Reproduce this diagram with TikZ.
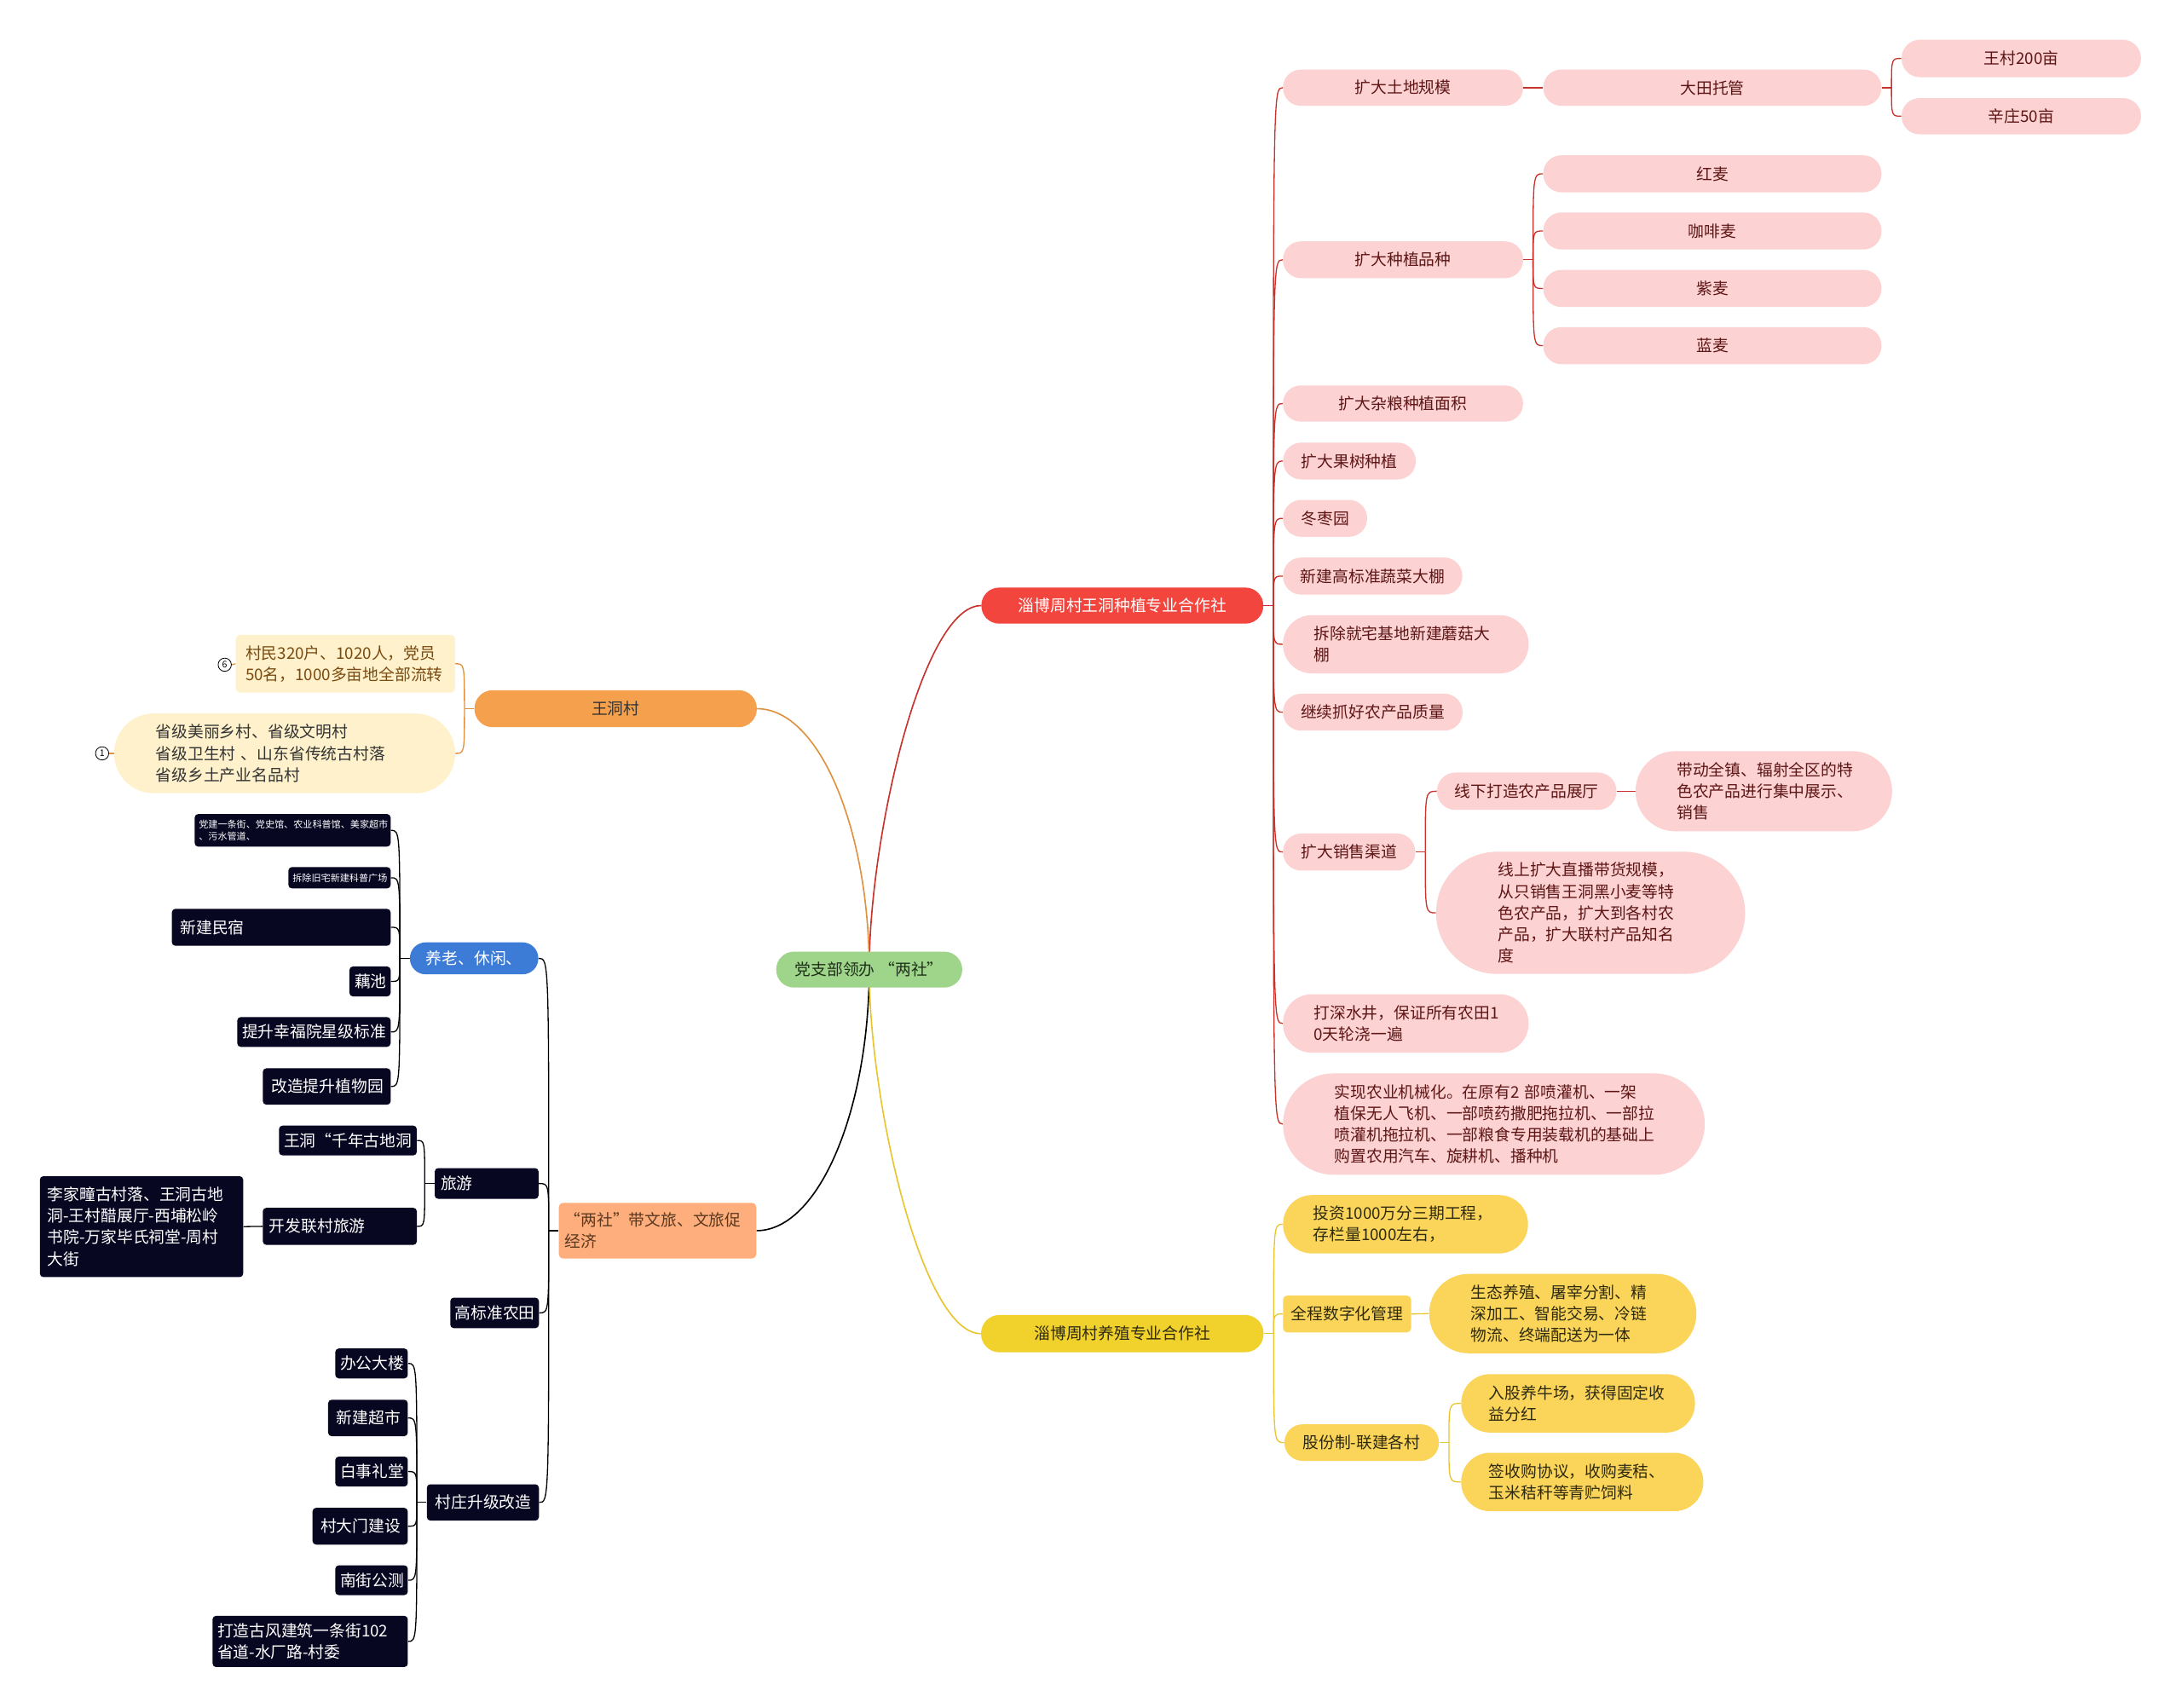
\documentclass[tikz,border=0pt]{standalone}
\usepackage{fontspec}
\setmainfont{Noto Sans CJK SC}
\usetikzlibrary{backgrounds}
\definecolor{pinkF}{HTML}{FCD2D2}
\definecolor{pinkT}{HTML}{5E1515}
\definecolor{redF}{HTML}{F2453D}
\definecolor{redL}{HTML}{C8322C}
\definecolor{yelF}{HTML}{F1D12C}
\definecolor{yelC}{HTML}{FAD55A}
\definecolor{yelL}{HTML}{E8C52E}
\definecolor{yelT}{HTML}{2E2A10}
\definecolor{oraF}{HTML}{F5A04C}
\definecolor{oraL}{HTML}{E0913F}
\definecolor{lsF}{HTML}{FDAE7C}
\definecolor{lsT}{HTML}{5A3820}
\definecolor{creF}{HTML}{FEF1CB}
\definecolor{creT}{HTML}{7A4A10}
\definecolor{grnF}{HTML}{9FD58A}
\definecolor{grnT}{HTML}{1F2F1A}
\definecolor{bluF}{HTML}{3C7BD6}
\definecolor{drkF}{HTML}{070722}
\newcommand\fntM{\fontsize{11.5pt}{15.4pt}\selectfont}
\newcommand\fntS{\fontsize{6.8pt}{8.6pt}\selectfont}
\begin{document}
\begin{tikzpicture}[x=1pt,y=-1pt,
 box/.style={inner sep=0pt, font=\fntM, align=center},
 sz/.style 2 args={minimum width=#1pt, minimum height=#2pt},
 pl/.style={rounded corners=#1pt},
 tw/.style={text width=#1pt, align=left},
 pk/.style={box, fill=pinkF, text=pinkT},
 yc/.style={box, fill=yelC, text=yelT},
 dk/.style={box, fill=drkF, text=white, rounded corners=2.5pt},
 cr/.style={box, fill=creF},
 main/.style={line width=1pt},
 sub/.style={line width=0.8pt},
 mk/.style={circle, draw=black, line width=0.5pt, inner sep=0pt, minimum size=9.5pt, font=\fontsize{6.5pt}{6.5pt}\selectfont, fill=white},
]
% ---------- main nodes ----------
\node[box, fill=grnF, text=grnT, sz={133.7}{25.8}, pl=12.8] (cen) at (624.6,696.8) {党支部领办\hspace{3pt}“两社”};
\node[box, fill=redF, text=white, sz={202.6}{25.9}, pl=12.8] (red) at (806.5,435.2) {淄博周村王洞种植专业合作社};
\node[box, fill=yelF, text=yelT, sz={203}{26.8}, pl=13.2] (yel) at (806.5,958.4) {淄博周村养殖专业合作社};
\node[box, fill=oraF, text=black!80, sz={202.9}{26.6}, pl=13.1] (wd) at (442.4,509.3) {王洞村};
\node[box, fill=lsF, text=lsT, sz={141.9}{40}, rounded corners=3pt, tw=133] (ls) at (472.5,884.4) {“两社”带文旅、文旅促\\经济};
% ---------- red subtree ----------
\node[pk, sz={172.5}{26}, pl=12.8] (r1) at (1008.2,63) {扩大土地规模};
\node[pk, sz={243}{26}, pl=12.8] (r1a) at (1230.5,63) {大田托管};
\node[pk, sz={172}{27}, pl=13.3] (r1a1) at (1452.5,42) {王村200亩};
\node[pk, sz={172}{26}, pl=12.8] (r1a2) at (1452.5,83.5) {辛庄50亩};
\node[pk, sz={172.5}{26.5}, pl=13] (r2) at (1008.2,186.7) {扩大种植品种};
\node[pk, sz={243}{26.6}, pl=13] (r2a) at (1230.5,124.9) {红麦};
\node[pk, sz={243}{26.6}, pl=13] (r2b) at (1230.5,166) {咖啡麦};
\node[pk, sz={243}{26.6}, pl=13] (r2c) at (1230.5,207.3) {紫麦};
\node[pk, sz={243}{26.6}, pl=13] (r2d) at (1230.5,248.4) {蓝麦};
\node[pk, sz={172.5}{26}, pl=12.8] (r3) at (1008.2,290) {扩大杂粮种植面积};
\node[pk, sz={95.3}{26.5}, pl=13] (r4) at (969.7,331.3) {扩大果树种植};
\node[pk, sz={60.4}{26.5}, pl=13] (r5) at (952.2,372.5) {冬枣园};
\node[pk, sz={128.8}{26.6}, pl=13] (r6) at (986.4,414) {新建高标准蔬菜大棚};
\node[pk, sz={176.5}{41.8}, pl=20.7, tw=132] (r7) at (1010.2,463) {拆除就宅基地新建蘑菇大\\棚};
\node[pk, sz={129}{26.5}, pl=13] (r8) at (986.5,511.8) {继续抓好农产品质量};
\node[pk, sz={95}{26.6}, pl=13] (r9) at (969.5,612.3) {扩大销售渠道};
\node[pk, sz={129}{26.8}, pl=13.2] (r9a) at (1097.1,568.6) {线下打造农产品展厅};
\node[pk, sz={184.3}{57.6}, pl=28.6, tw=125] (r9a1) at (1267.5,568.6) {带动全镇、辐射全区的特\\色农产品进行集中展示、\\销售};
\node[pk, sz={222}{87.8}, pl=43.7, tw=133] (r9b) at (1143,656) {线上扩大直播带货规模，\\从只销售王洞黑小麦等特\\色农产品，扩大到各村农\\产品，扩大联村产品知名\\度};
\node[pk, sz={176.5}{42}, pl=20.8, tw=132] (r10) at (1010.2,735.5) {打深水井，保证所有农田1\\0天轮浇一遍};
\node[pk, sz={303}{72.8}, pl=36.2, tw=229] (r11) at (1073.5,807.8) {实现农业机械化。在原有2 部喷灌机、一架\\植保无人飞机、一部喷药撒肥拖拉机、一部拉\\喷灌机拖拉机、一部粮食专用装载机的基础上\\购置农用汽车、旋耕机、播种机};
% ---------- yellow subtree ----------
\node[yc, sz={176}{41.9}, pl=20.7, tw=132.6] (y1) at (1010,879.8) {投资1000万分三期工程，\\存栏量1000左右，};
\node[yc, sz={92}{26.5}, rounded corners=3pt] (y2) at (968,944.3) {全程数字化管理};
\node[yc, sz={192}{57}, pl=28.3, tw=132] (y2a) at (1123,944) {生态养殖、屠宰分割、精\\深加工、智能交易、冷链\\物流、终端配送为一体};
\node[yc, sz={111}{26.3}, pl=13] (y3) at (978.5,1036.7) {股份制-联建各村};
\node[yc, sz={168}{42}, pl=20.8, tw=128] (y3a) at (1134,1008.5) {入股养牛场，获得固定收\\益分红};
\node[yc, sz={174}{42}, pl=20.8, tw=134] (y3b) at (1137,1065) {签收购协议，收购麦秸、\\玉米秸秆等青贮饲料};
% ---------- orange subtree ----------
\node[cr, text=creT, sz={157.5}{41.5}, rounded corners=3pt, tw=143.5] (w1) at (248.2,477) {村民320户、1020人，党员\\50名，1000多亩地全部流转};
\node[cr, text=black!80, sz={245}{57.2}, pl=28.4, tw=185] (w2) at (204.5,541.4) {省级美丽乡村、省级文明村\\省级卫生村 、山东省传统古村落\\省级乡土产业名品村};
\node[mk] (m6) at (161.5,477.7) {6};
\node[mk] (m1) at (73.4,541.4) {1};
% ---------- black subtree ----------
\node[box, fill=bluF, text=white, sz={92.3}{23}, pl=11.4] (b0) at (340.7,688.7) {养老、休闲、};
\node[dk, font=\fntS, sz={140.8}{23.4}, tw=134.8] (d1) at (210.3,596.7) {党建一条街、党史馆、农业科普馆、美家超市\\、污水管道、};
\node[dk, font=\fntS, sz={73.5}{15.3}, tw=67.4] (d2) at (244,630.8) {拆除旧宅新建科普广场};
\node[dk, sz={157.2}{26.5}, tw=145] (d3) at (202.1,666.4) {新建民宿};
\node[dk, sz={29.6}{21.5}, tw=22.2] (d4) at (265.9,705.3) {藕池};
\node[dk, sz={110.2}{21.4}, tw=103.2] (d5) at (225.6,741.6) {提升幸福院星级标准};
\node[dk, sz={91.9}{26.1}, tw=79.6] (d6) at (234.8,780.8) {改造提升植物园};
\node[dk, sz={74.6}{22.1}, tw=66] (t0) at (349.7,850.5) {旅游};
\node[dk, sz={99}{21.4}, tw=92] (t1) at (250,819.6) {王洞“千年古地洞};
\node[dk, sz={110.7}{26.6}, tw=101.4] (t2) at (244.2,881.3) {开发联村旅游};
\node[dk, sz={146.1}{72.5}, tw=135.2] (t3) at (101.7,881.5) {李家疃古村落、王洞古地\\洞-王村醋展厅-西埔松岭\\书院-万家毕氏祠堂-周村\\大街};
\node[dk, sz={63.7}{21.9}, tw=56.8] (g1) at (355.4,943.5) {高标准农田};
\node[dk, sz={80.5}{26.1}, tw=68.4] (v0) at (347,1079.7) {村庄升级改造};
\node[dk, sz={52.1}{21.5}, tw=45.2] (v1) at (267,979.8) {办公大楼};
\node[dk, sz={57.2}{26.2}, tw=45] (v2) at (264.4,1019) {新建超市};
\node[dk, sz={52.1}{21.5}, tw=45] (v3) at (267,1057.5) {白事礼堂};
\node[dk, sz={68.4}{26.4}, tw=57] (v4) at (258.8,1096.8) {村大门建设};
\node[dk, sz={52.1}{21.4}, tw=45] (v5) at (267,1135.6) {南街公测};
\node[dk, sz={140.3}{36.8}, tw=133.4] (v6) at (222.9,1179.6) {打造古风建筑一条街102\\省道-水厂路-村委};
% ---------- connectors ----------
\begin{pgfonlayer}{background}
\fill[white] (0,0) rectangle (1568,1227);
\draw[redL, main] (cen.center) .. controls +(0,-96) and +(-42,0) .. (red.west);
\draw[oraL, main] (cen.center) .. controls +(0,-100) and +(45,0) .. (wd.east);
\draw[black, main] (cen.center) .. controls +(0,100) and +(45,0) .. (ls.east);
\draw[yelL, main] (cen.center) .. controls +(0,96) and +(-42,0) .. (yel.west);
% red
\coordinate (jR) at ([xshift=7pt]red.east);
\draw[redL, sub] (red.east) -- (jR);
\foreach \c in {r1,r2,r3,r4,r5,r6,r7,r8,r9,r10,r11}
  \draw[redL, sub] (jR) .. controls (jR |- \c.west) and (jR |- \c.west) .. (\c.west);
\draw[redL, sub] (r1.east) -- (r1a.west);
\coordinate (jA) at ([xshift=7pt]r1a.east);
\draw[redL, sub] (r1a.east) -- (jA);
\foreach \c in {r1a1,r1a2}
  \draw[redL, sub] (jA) .. controls (jA |- \c.west) and (jA |- \c.west) .. (\c.west);
\coordinate (jB) at ([xshift=7pt]r2.east);
\draw[redL, sub] (r2.east) -- (jB);
\foreach \c in {r2a,r2b,r2c,r2d}
  \draw[redL, sub] (jB) .. controls (jB |- \c.west) and (jB |- \c.west) .. (\c.west);
\coordinate (jC) at ([xshift=7pt]r9.east);
\draw[redL, sub] (r9.east) -- (jC);
\foreach \c in {r9a,r9b}
  \draw[redL, sub] (jC) .. controls (jC |- \c.west) and (jC |- \c.west) .. (\c.west);
\draw[redL, sub] (r9a.east) -- (r9a1.west);
% yellow
\coordinate (jY) at ([xshift=7pt]yel.east);
\draw[yelL, sub] (yel.east) -- (jY);
\foreach \c in {y1,y2,y3}
  \draw[yelL, sub] (jY) .. controls (jY |- \c.west) and (jY |- \c.west) .. (\c.west);
\draw[yelL, sub] (y2.east) -- (y2a.west);
\coordinate (jY3) at ([xshift=7pt]y3.east);
\draw[yelL, sub] (y3.east) -- (jY3);
\foreach \c in {y3a,y3b}
  \draw[yelL, sub] (jY3) .. controls (jY3 |- \c.west) and (jY3 |- \c.west) .. (\c.west);
% orange
\coordinate (jW) at ([xshift=-7pt]wd.west);
\draw[oraL, sub] (wd.west) -- (jW);
\foreach \c in {w1,w2}
  \draw[oraL, sub] (jW) .. controls (jW |- \c.east) and (jW |- \c.east) .. (\c.east);
\draw[oraL, sub] (m6.east) -- (w1.west);
\draw[oraL, sub] (m1.east) -- (w2.west);
% black
\coordinate (jL) at ([xshift=-7pt]ls.west);
\draw[black, sub] (ls.west) -- (jL);
\foreach \c in {b0,t0,g1,v0}
  \draw[black, sub] (jL) .. controls (jL |- \c.east) and (jL |- \c.east) .. (\c.east);
\coordinate (jB0) at ([xshift=-7pt]b0.west);
\draw[black, sub] (b0.west) -- (jB0);
\foreach \c in {d1,d2,d3,d4,d5,d6}
  \draw[black, sub] (jB0) .. controls (jB0 |- \c.east) and (jB0 |- \c.east) .. (\c.east);
\coordinate (jT) at ([xshift=-7pt]t0.west);
\draw[black, sub] (t0.west) -- (jT);
\foreach \c in {t1,t2}
  \draw[black, sub] (jT) .. controls (jT |- \c.east) and (jT |- \c.east) .. (\c.east);
\draw[black, sub] (t2.west) -- (t3.east);
\coordinate (jV) at ([xshift=-7pt]v0.west);
\draw[black, sub] (v0.west) -- (jV);
\foreach \c in {v1,v2,v3,v4,v5,v6}
  \draw[black, sub] (jV) .. controls (jV |- \c.east) and (jV |- \c.east) .. (\c.east);
\end{pgfonlayer}
\useasboundingbox (0,0) rectangle (1568,1227);
\end{tikzpicture}
\end{document}
